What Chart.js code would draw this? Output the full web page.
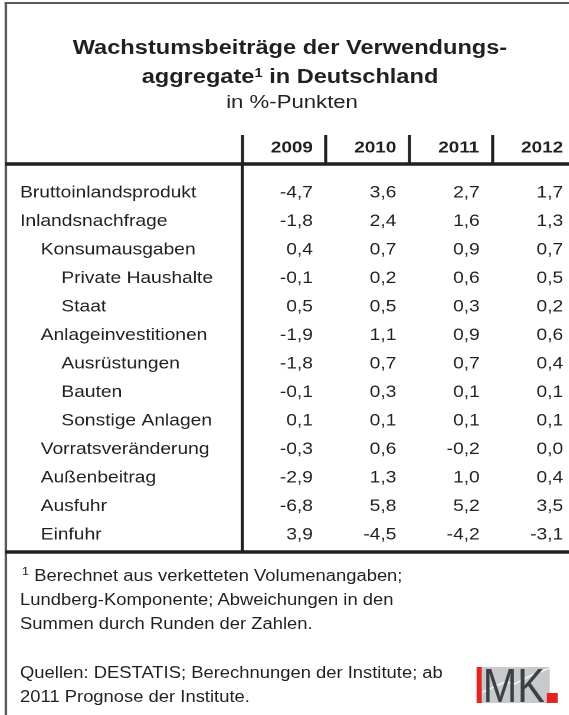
<!DOCTYPE html>
<html lang="de">
<head>
<meta charset="utf-8">
<title>Wachstumsbeiträge der Verwendungsaggregate in Deutschland</title>
<script src="https://cdn.jsdelivr.net/npm/chart.js@4.4.1/dist/chart.umd.min.js"></script>
<style>
  html, body { margin: 0; padding: 0; background: #fff; overflow: hidden; }
  body { width: 569px; height: 715px; }
  /* die Vorlage ist waagerecht gestreckt: alles in 482px Breite bauen und auf 569px ziehen */
  #seite { position: absolute; left: 0; top: 0; width: 482px; height: 715px;
           transform: scaleX(1.18); transform-origin: 0 0;
           font-family: "Liberation Sans", Arial, sans-serif; color: #231f20; }
  #rahmen { position: absolute; left: 3.5px; top: 2px; width: 600px; height: 800px;
            border-left: 2px solid #58595b; border-top: 2px solid #58595b; }
  #titel { position: absolute; left: 0; top: 32.5px; width: 491.5px; text-align: center;
           font-weight: bold; font-size: 20px; line-height: 29px; white-space: nowrap; }
  #untertitel { position: absolute; left: 0; top: 88.5px; width: 495px; text-align: center;
                font-size: 18.8px; line-height: 25px; }
  .hoch { font-size: 0.62em; position: relative; top: -0.42em; line-height: 0; }
  #tabelle { position: absolute; left: 0; top: 0; }
  .fuss { position: absolute; left: 17px; font-size: 15.6px; line-height: 24.25px; white-space: nowrap; }
  .fuss .hoch { font-size: 0.72em; top: -0.5em; margin-left: 1.4px; }
  #logo { position: absolute; left: 404.2px; top: 667px; overflow: visible; }
</style>
</head>
<body>
<div id="seite">
  <div id="rahmen"></div>
  <div id="titel">Wachstumsbeiträge der Verwendungs-<br>aggregate<span class="hoch">1</span> in Deutschland</div>
  <div id="untertitel">in %-Punkten</div>
  <canvas id="tabelle" width="489" height="556"></canvas>
  <div class="fuss" style="top: 563.9px"><span class="hoch">1</span> Berechnet aus verketteten Volumenangaben;<br>Lundberg-Komponente; Abweichungen in den<br>Summen durch Runden der Zahlen.</div>
  <div class="fuss" style="top: 660.9px">Quellen: DESTATIS; Berechnungen der Institute; ab<br>2011 Prognose der Institute.</div>
  <svg id="logo" width="70" height="36" viewBox="0 0 70 36">
    <rect x="0" y="0" width="61.9" height="36" fill="#c7c9cb"/>
    <polyline points="5,25 24,15 32,17 45,9 61.9,1" fill="none" stroke="#fff" stroke-width="1.2"/>
    <text x="5.1" y="35" font-family="Liberation Sans, Arial, sans-serif" font-size="47.5"
          textLength="52.6" lengthAdjust="spacingAndGlyphs" fill="#3d4043">MK</text>
    <rect x="0" y="0" width="4.2" height="36" fill="#e52421"/>
    <rect x="59.4" y="26" width="9.3" height="10" fill="#e52421"/>
  </svg>
</div>

<script>
const jahre = ['2009', '2010', '2011', '2012'];
const zeilen = ['Bruttoinlandsprodukt', 'Inlandsnachfrage', 'Konsumausgaben', 'Private Haushalte', 'Staat',
  'Anlageinvestitionen', 'Ausrüstungen', 'Bauten', 'Sonstige Anlagen', 'Vorratsveränderung',
  'Außenbeitrag', 'Ausfuhr', 'Einfuhr'];
const ebenen = [0, 0, 1, 2, 2, 1, 2, 2, 2, 1, 1, 1, 1];

const werte2009 = [-4.7, -1.8, 0.4, -0.1, 0.5, -1.9, -1.8, -0.1, 0.1, -0.3, -2.9, -6.8, 3.9];
const werte2010 = [3.6, 2.4, 0.7, 0.2, 0.5, 1.1, 0.7, 0.3, 0.1, 0.6, 1.3, 5.8, -4.5];
const werte2011 = [2.7, 1.6, 0.9, 0.6, 0.3, 0.9, 0.7, 0.1, 0.1, -0.2, 1.0, 5.2, -4.2];
const werte2012 = [1.7, 1.3, 0.7, 0.5, 0.2, 0.6, 0.4, 0.1, 0.1, 0.0, 0.4, 3.5, -3.1];
const reihen = [werte2009, werte2010, werte2011, werte2012];

const textFarbe = '#231f20';
const linienFarbe = '#231f20';
const schrift = '"Liberation Sans", Arial, sans-serif';

const zahl = v => v.toFixed(1).replace('.', ',');

// Zeilennamen, Zellwerte und die durchgehenden Querlinien
const tabellenPlugin = {
  id: 'tabelle',
  afterDraw(chart) {
    const { ctx, chartArea, scales: { x, y } } = chart;
    ctx.save();

    ctx.strokeStyle = linienFarbe;
    ctx.lineWidth = 3.5;
    [chartArea.top, chartArea.bottom].forEach(py => {
      ctx.beginPath();
      ctx.moveTo(4.5, py);
      ctx.lineTo(chart.width, py);
      ctx.stroke();
    });

    ctx.fillStyle = textFarbe;
    ctx.font = '16.3px ' + schrift;
    ctx.textBaseline = 'middle';
    ctx.textAlign = 'left';
    zeilen.forEach((name, i) => {
      ctx.fillText(name, 17 + ebenen[i] * 17.5, y.getPixelForValue(i));
    });

    ctx.textAlign = 'right';
    const spalte = x.width / jahre.length;
    chart.data.datasets.forEach((ds, j) => {
      chart.getDatasetMeta(j).data.forEach((pt, i) => {
        ctx.fillText(zahl(ds.werte[i]), pt.x + spalte / 2 - 11, pt.y);
      });
    });

    ctx.restore();
  }
};

new Chart(document.getElementById('tabelle'), {
  type: 'line',
  data: {
    labels: jahre,
    datasets: jahre.map((jahr, j) => ({
      label: jahr,
      werte: reihen[j],
      data: zeilen.map((z, i) => ({ x: jahr, y: i })),
      showLine: false,
      pointRadius: 0,
      pointHoverRadius: 0
    }))
  },
  options: {
    responsive: false,
    devicePixelRatio: 2,
    animation: false,
    events: [],
    layout: { padding: { top: 0, left: 0, right: 0.7, bottom: 4 } },
    plugins: {
      legend: { display: false },
      title: { display: false },
      tooltip: { enabled: false }
    },
    scales: {
      x: {
        type: 'category',
        position: 'top',
        offset: true,
        grid: {
          offset: true,
          drawOnChartArea: false,
          drawTicks: true,
          tickLength: 29,
          tickWidth: 2.6,
          tickColor: linienFarbe
        },
        border: { display: false },
        ticks: {
          color: textFarbe,
          font: { family: schrift, size: 16, weight: 'bold' },
          padding: -22.6,
          labelOffset: 6.5,
          maxRotation: 0,
          autoSkip: false
        },
        afterFit: s => { s.height = 164; }
      },
      y: {
        type: 'linear',
        reverse: true,
        bounds: 'data',
        min: -1.02,
        max: 12.6,
        grid: { drawOnChartArea: false, drawTicks: false },
        border: { display: true, width: 2.6, color: linienFarbe },
        ticks: { display: false },
        afterFit: s => { s.width = 205.5; }
      }
    }
  },
  plugins: [tabellenPlugin]
});
</script>
</body>
</html>
